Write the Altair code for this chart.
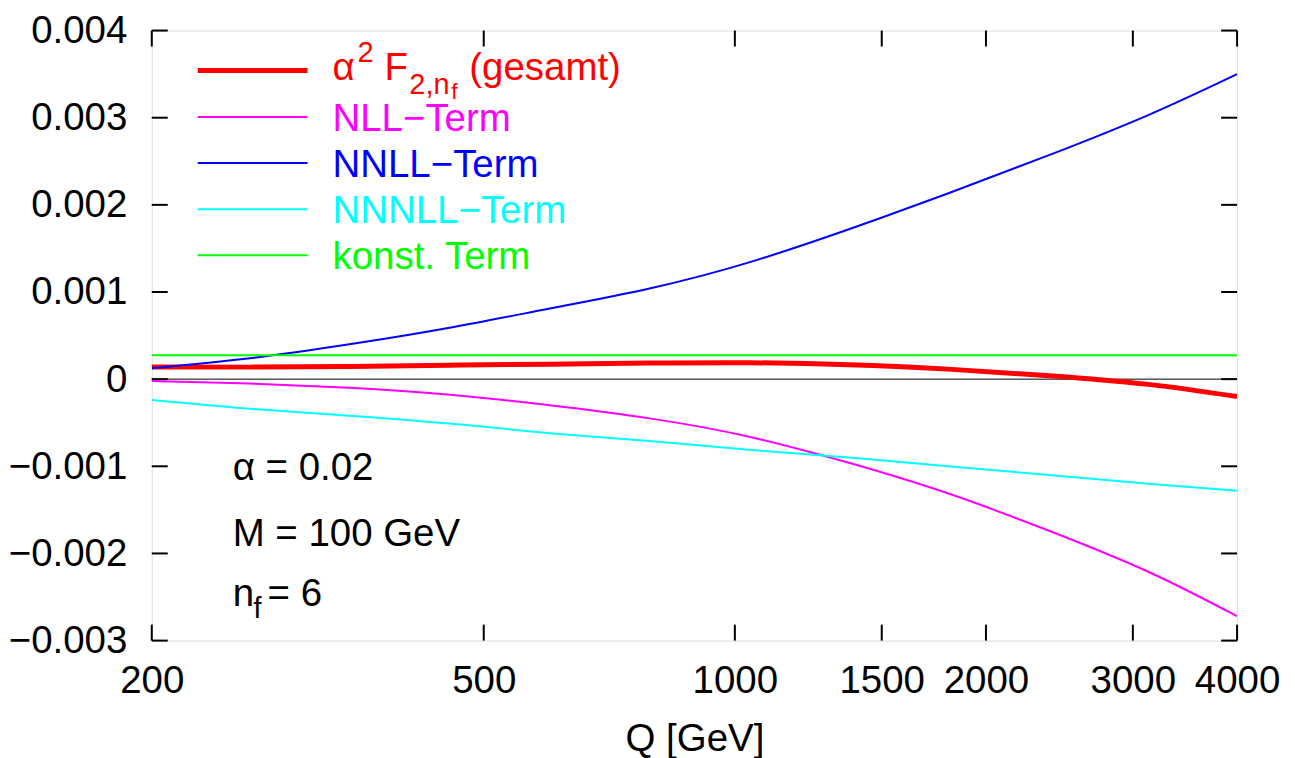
import altair as alt
import pandas as pd

# ---- data ----
Q = [200, 262, 345, 455, 600, 790, 1040, 1370, 1800, 2380, 3130, 4000]
gesamt = [0.00014, 0.000138, 0.000145, 0.00016, 0.000172, 0.000184, 0.000188, 0.000166, 0.000115, 0.00004, -0.00006, -0.0002]
nll = [-0.00002, -0.00005, -0.0001, -0.00018, -0.0003, -0.00045, -0.00066, -0.00096, -0.00131, -0.00174, -0.00221, -0.00272]
nnll = [0.000126, 0.00024, 0.0004, 0.00059, 0.00081, 0.00104, 0.00134, 0.00172, 0.00213, 0.00257, 0.00303, 0.0035]
nnnll = [-0.00024, -0.00034, -0.00042, -0.00051, -0.00062, -0.00071, -0.00081, -0.0009, -0.001, -0.0011, -0.0012, -0.00128]
konst = [0.000275, 0.000275, 0.000275, 0.000275, 0.000275, 0.000275, 0.000275, 0.000275, 0.000275, 0.000275, 0.000275, 0.000275]

x_ticks = [200, 500, 1000, 1500, 2000, 3000, 4000]
y_ticks = [-0.003, -0.002, -0.001, 0, 0.001, 0.002, 0.003, 0.004]

legend_labels = ["NLL\u2212Term", "NNLL\u2212Term", "NNNLL\u2212Term", "konst. Term"]
info_labels = ["\u03b1 = 0.02", "M = 100 GeV"]

# ---- layout / style ----
W, H = 1087, 611
FONT = "Liberation Sans"
FS = 38.5
FS_SUB = 29
FS_SUB2 = 23
TL = 16  # inward tick length

x_scale = alt.Scale(type="log", domain=[200, 4000], nice=False)
y_scale = alt.Scale(domain=[-0.003, 0.004], nice=False, zero=False)

x_axis = alt.Axis(values=x_ticks, format="d", title="Q [GeV]", labelFontSize=FS, titleFontSize=FS,
                  labelFont=FONT, titleFont=FONT, titleFontWeight="normal", labelColor="black",
                  titleColor="black", ticks=False, tickSize=0, domain=False, grid=False,
                  labelPadding=22, labelFlush=False, labelOverlap=False, labelBound=False,
                  titleY=80, titleBaseline="top")
y_axis = alt.Axis(values=y_ticks, title=None, labelFontSize=FS, labelFont=FONT, labelColor="black",
                  ticks=False, tickSize=0, domain=False, grid=False, labelPadding=25,
                  labelOverlap=False, labelBound=False, labelFlush=False,
                  labelExpr="datum.value == 0 ? '0' : format(datum.value, '.3f')")

X = alt.X("Q:Q", scale=x_scale, axis=x_axis)
Y = alt.Y("v:Q", scale=y_scale, axis=y_axis)

one = pd.DataFrame({"k": [0]})

layers = []

# inward ticks on all four sides
ytdf = pd.DataFrame({"v": y_ticks})
xtdf = pd.DataFrame({"Q": x_ticks})
layers.append(alt.Chart(ytdf).mark_rule(color="black", strokeWidth=2).encode(y=Y, x=alt.value(0), x2=alt.value(TL)))
layers.append(alt.Chart(ytdf).mark_rule(color="black", strokeWidth=2).encode(y=Y, x=alt.value(W - TL), x2=alt.value(W)))
layers.append(alt.Chart(xtdf).mark_rule(color="black", strokeWidth=2).encode(x=X, y=alt.value(H - TL), y2=alt.value(H)))
layers.append(alt.Chart(xtdf).mark_rule(color="black", strokeWidth=2).encode(x=X, y=alt.value(0), y2=alt.value(TL)))

# zero line
layers.append(alt.Chart(pd.DataFrame({"v": [0]})).mark_rule(color="black", strokeWidth=1).encode(
    y=Y, x=alt.value(0), x2=alt.value(W)))

series = [
    (gesamt, "#ff0000", 5),
    (nll, "#ff00ff", 2),
    (nnll, "#0000ff", 2),
    (nnnll, "#00ffff", 2),
    (konst, "#00ff00", 2),
]
for vals, col, sw in series:
    df = pd.DataFrame({"Q": Q, "v": vals})
    layers.append(alt.Chart(df).mark_line(color=col, strokeWidth=sw, interpolate="natural", clip=True).encode(x=X, y=Y))

# legend lines
leg_y = [40, 86.7, 132.7, 179, 225]
for (vals, col, sw), ly in zip(series, leg_y):
    layers.append(alt.Chart(one).mark_rule(color=col, strokeWidth=sw).encode(
        x=alt.value(46), x2=alt.value(156), y=alt.value(ly)))

# legend texts (plain entries)
text_cols = ["#ff00ff", "#0000ff", "#00ffff", "#00ff00"]
for lab, col, ly in zip(legend_labels, text_cols, leg_y[1:]):
    layers.append(alt.Chart(one).mark_text(text=lab, color=col, font=FONT, fontSize=FS, align="left",
                                           baseline="alphabetic").encode(x=alt.value(181), y=alt.value(ly + 13.5)))

# red legend text with super/subscripts: alpha^2 F_{2,n_f} (gesamt)
red_parts = [
    ("\u03b1", 181, 50, FS),
    ("2", 206, 31.7, FS_SUB),
    ("F", 233, 50, FS),
    ("2,n", 258, 63.3, FS_SUB),
    ("f", 300, 68.3, FS_SUB2),
    ("(gesamt)", 318, 50, FS),
]
for t, px, py, fs in red_parts:
    layers.append(alt.Chart(one).mark_text(text=t, color="#ff0000", font=FONT, fontSize=fs, align="left",
                                           baseline="alphabetic").encode(x=alt.value(px), y=alt.value(py)))

# parameter annotations
info_parts = [
    (info_labels[0], 81, 450, FS),
    (info_labels[1], 81, 516.7, FS),
    ("n", 81, 576.7, FS),
    ("f", 102, 588, FS_SUB),
    ("= 6", 116, 576.7, FS),
]
for t, px, py, fs in info_parts:
    layers.append(alt.Chart(one).mark_text(text=t, color="black", font=FONT, fontSize=fs, align="left",
                                           baseline="alphabetic").encode(x=alt.value(px), y=alt.value(py)))

chart = alt.layer(*layers).properties(
    width=W, height=H,
    autosize=alt.AutoSizeParams(type="none"),
    padding={"left": 144, "top": 22, "right": 50, "bottom": 118},
).configure_view(stroke="black", strokeWidth=2).configure(background="white")

chart.save("out.html", embed_options={"renderer": "svg", "actions": False})
